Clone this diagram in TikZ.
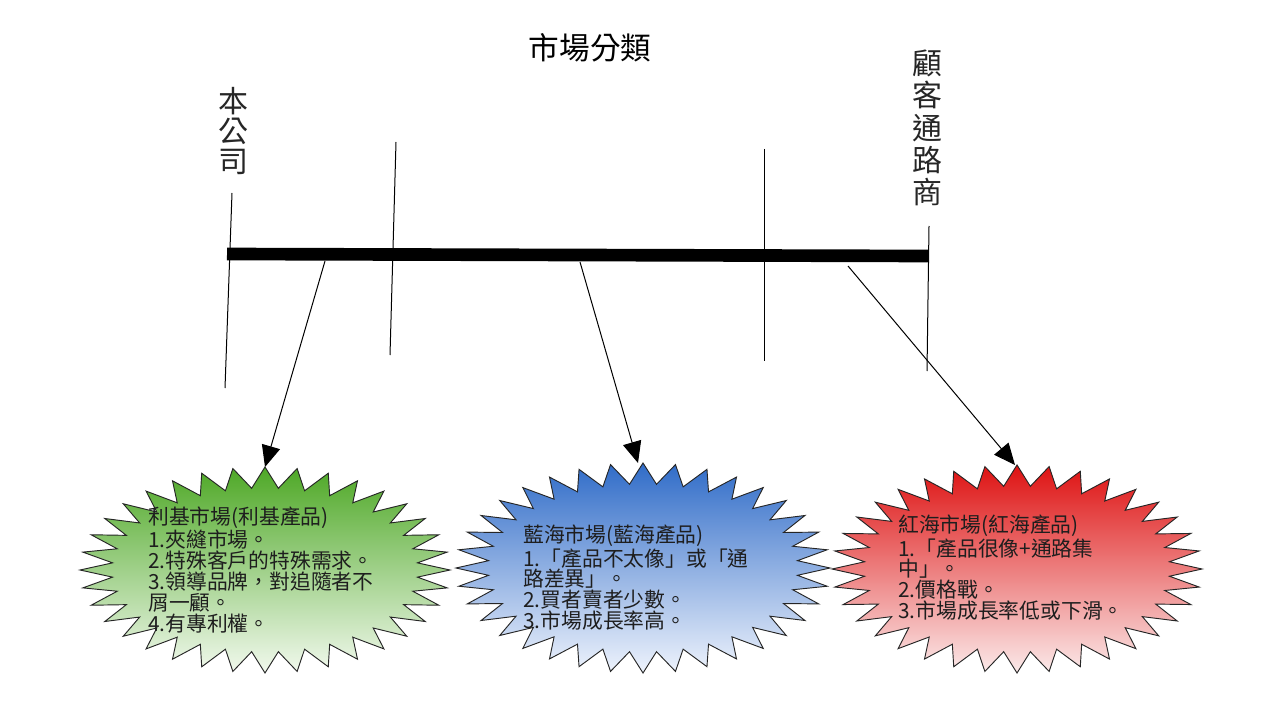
\documentclass[tikz,border=0pt]{standalone}
\usepackage{fontspec}
\setmainfont{Noto Sans CJK TC}
\newfontfamily\cjk{Noto Sans CJK TC}
\usetikzlibrary{arrows.meta}
\definecolor{gtop}{RGB}{78,168,38}
\definecolor{gbot}{RGB}{242,249,238}
\definecolor{btop}{RGB}{48,108,200}
\definecolor{bbot}{RGB}{238,243,252}
\definecolor{rtop}{RGB}{222,18,18}
\definecolor{rbot}{RGB}{251,234,234}
\definecolor{txt}{RGB}{30,30,30}
\tikzset{
  burst/.style={draw=black!85, line width=0.7pt},
  thinline/.style={draw=black, line width=0.75pt},
  barline/.style={draw=black, line width=9.5pt},
  arr/.style={draw=black, line width=0.75pt, -{Triangle[length=16pt,width=14pt]}},
  boxtext/.style={font=\cjk\fontsize{15.6}{15.6}\selectfont, text=txt, align=left, inner sep=0pt, anchor=north west},
  vlabel/.style={font=\cjk\fontsize{22.5}{22.5}\selectfont, text=black!85, align=center, inner sep=0pt},
}
\newcommand{\burstshape}[6]{%
  \shadedraw[burst, top color=#5, bottom color=#6] ({#1+#3}, #2)
    \foreach \k in {0,...,35} {
      -- ({#1+(#3-32)*cos(10*\k+5)}, {#2+(#4-21)*sin(10*\k+5)})
      -- ({#1+#3*cos(10*\k+10)}, {#2+#4*sin(10*\k+10)})
    } -- cycle;}
\begin{document}
\begin{tikzpicture}[x=0.75pt,y=-0.75pt]
\useasboundingbox (0,0) rectangle (1280,720);
\fill[white] (0,0) rectangle (1280,720);

% title and end labels
\node[font=\cjk\fontsize{23}{23}\selectfont, inner sep=0pt] (title) at (590,48) {市場分類};
\node[vlabel] (company) at (233,131) {本\\公\\司};
\node[vlabel, font=\cjk\fontsize{22.5}{24.3}\selectfont] (customer) at (927,128) {顧\\客\\通\\路\\商};

% vertical divider lines
\coordinate (v1t) at (232,193); \coordinate (v1b) at (225,388);
\coordinate (v2t) at (396,142); \coordinate (v2b) at (390,355);
\coordinate (v3t) at (764,149); \coordinate (v3b) at (764,361);
\coordinate (v4t) at (929,226); \coordinate (v4b) at (927,371);
\draw[thinline] (v1t) -- (v1b);
\draw[thinline] (v2t) -- (v2b);
\draw[thinline] (v3t) -- (v3b);
\draw[thinline] (v4t) -- (v4b);

% main bar
\coordinate (barL) at (227,254);
\coordinate (barR) at (928,256);
\draw[barline] (barL) -- (barR);

% starbursts
\burstshape{265}{570}{185}{103}{gtop}{gbot}
\burstshape{643}{568}{187}{105}{btop}{bbot}
\burstshape{1017}{569}{185}{104}{rtop}{rbot}

% texts
\node[boxtext] (green) at (148,507) {利基市場(利基產品)\\1.夾縫市場。\\2.特殊客戶的特殊需求。\\3.領導品牌，對追隨者不\\屑一顧。\\4.有專利權。};
\node[boxtext] (blue) at (523,525) {藍海市場(藍海產品)\\1.「產品不太像」或「通\\路差異」。\\2.買者賣者少數。\\3.市場成長率高。};
\node[boxtext] (red) at (898,515) {紅海市場(紅海產品)\\1.「產品很像+通路集\\中」。\\2.價格戰。\\3.市場成長率低或下滑。};

% arrows
\coordinate (gs) at (325,261); \coordinate (gt) at (265,467);
\coordinate (bs) at (580,262); \coordinate (bt) at (638,463);
\coordinate (rs) at (848,266); \coordinate (rt) at (1015,465);
\draw[arr] (gs) -- (gt);
\draw[arr] (bs) -- (bt);
\draw[arr] (rs) -- (rt);
\end{tikzpicture}
\end{document}
